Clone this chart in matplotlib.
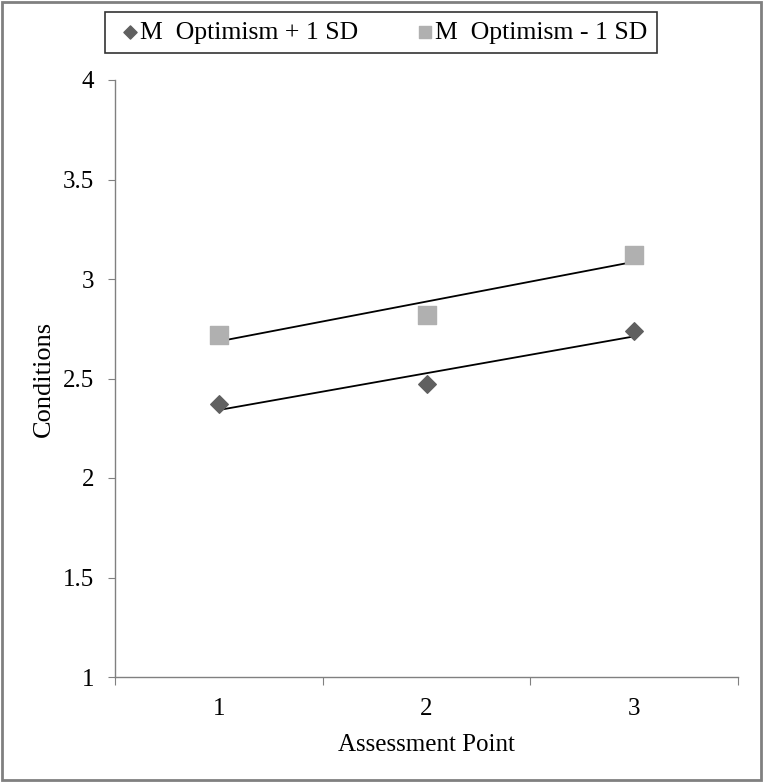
import numpy as np
import matplotlib.pyplot as plt
from matplotlib.patches import Rectangle

plt.rcParams['font.family'] = ['Liberation Serif', 'DejaVu Serif']

# Data
assessment = [1, 2, 3]
opt_high = [2.37, 2.47, 2.74]   # M Optimism + 1 SD
opt_low = [2.72, 2.82, 3.12]    # M Optimism - 1 SD
yticks = [1, 1.5, 2, 2.5, 3, 3.5, 4]
ytick_labels = ['1', '1.5', '2', '2.5', '3', '3.5', '4']

fig = plt.figure(figsize=(7.63, 7.82), dpi=100)
ax = fig.add_axes([115 / 763, 1 - 677 / 782, (738 - 115) / 763, (677 - 80) / 782])

ax.scatter(assessment, opt_high, marker='D', s=80, color='#606060', zorder=3,
           label='M  Optimism + 1 SD')
ax.scatter(assessment, opt_low, marker='s', s=150, color='#b0b0b0', zorder=3,
           label='M  Optimism - 1 SD')

# linear trendlines
xs = np.array(assessment, dtype=float)
for ys in (opt_high, opt_low):
    m, b = np.polyfit(xs, ys, 1)
    ax.plot(xs, m * xs + b, color='black', linewidth=1.3, zorder=2)

ax.set_xlim(0.5, 3.5)
ax.set_ylim(1, 4)
ax.set_yticks(yticks)
ax.set_yticklabels(ytick_labels)
ax.set_xticks([0.5, 1.5, 2.5, 3.5])
ax.set_xticklabels([])
ax.set_xticks(assessment, minor=True)
ax.set_xticklabels([str(a) for a in assessment], minor=True)
ax.tick_params(axis='x', which='minor', length=0, pad=15, labelsize=18)
ax.tick_params(axis='x', which='major', length=6, color='#808080', direction='out')
ax.tick_params(axis='y', length=5, color='#808080', direction='out', pad=10, labelsize=18)

for side in ('top', 'right'):
    ax.spines[side].set_visible(False)
for side in ('left', 'bottom'):
    ax.spines[side].set_color('#808080')
    ax.spines[side].set_linewidth(1)

ax.set_xlabel('Assessment Point', fontsize=18, labelpad=10)
ax.set_ylabel('Conditions', fontsize=19, labelpad=6)

leg = fig.legend(loc='center', bbox_to_anchor=(381 / 763, 1 - 32.5 / 782), ncol=2,
                 frameon=True, fancybox=False, edgecolor='black', fontsize=18.5,
                 handletextpad=-0.2, handlelength=1.2, columnspacing=2.0, borderpad=0.35,
                 borderaxespad=0, markerscale=0.75)
leg.get_frame().set_linewidth(1.2)

# outer chart border
fig.patches.append(Rectangle((0.002, 0.002), 0.996, 0.996, transform=fig.transFigure,
                             fill=False, edgecolor='#808080', linewidth=2))

fig.savefig('out.png', dpi=100)
